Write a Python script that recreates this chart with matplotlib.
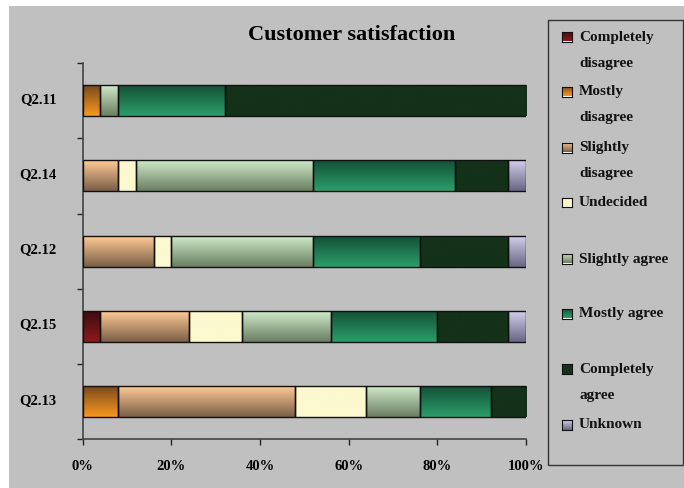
import numpy as np
import matplotlib
matplotlib.use("Agg")
import matplotlib.pyplot as plt
from matplotlib.patches import Rectangle
from matplotlib.colors import to_rgb
from matplotlib.transforms import ScaledTranslation

# ---- data ----
questions = ["Q2.11", "Q2.14", "Q2.12", "Q2.15", "Q2.13"]
series_names = ["Completely\ndisagree", "Mostly\ndisagree", "Slightly\ndisagree", "Undecided",
                "Slightly agree", "Mostly agree", "Completely\nagree", "Unknown"]
completely_disagree = [0, 0, 0, 4, 0]
mostly_disagree     = [4, 0, 0, 0, 8]
slightly_disagree   = [0, 8, 16, 20, 40]
undecided           = [0, 4, 4, 12, 16]
slightly_agree      = [4, 40, 32, 20, 12]
mostly_agree        = [24, 32, 24, 24, 16]
completely_agree    = [68, 12, 20, 16, 8]
unknown             = [0, 4, 4, 4, 0]
xtick_values = [0, 20, 40, 60, 80, 100]
xtick_labels = ["0%", "20%", "40%", "60%", "80%", "100%"]
title = "Customer satisfaction"

series = [completely_disagree, mostly_disagree, slightly_disagree, undecided,
          slightly_agree, mostly_agree, completely_agree, unknown]
# (top colour, bottom colour) of each vertical gradient
grads = [("#3C0C10", "#8E1A1C"), ("#7A4A1C", "#F8981E"), ("#FFCA96", "#7A5F46"),
         ("#FCF9CF", "#FCF9CF"), ("#CFEAC8", "#6A7E62"), ("#145036", "#2B9E6A"),
         ("#143219", "#143219"), ("#D2CEEC", "#686684")]
solid = ["#7A1518", "#E08A20", "#D8AC80", "#FCF9CF", "#A9C8A2", "#228050", "#143219", "#A8A6C8"]

W, H = 684, 488
fig = plt.figure(figsize=(W / 100, H / 100), dpi=100)
fig.patch.set_facecolor("white")
bg = Rectangle((9 / W, 0), 1 - 9 / W, 1 - 6 / H, transform=fig.transFigure,
               facecolor="#C0C0C0", edgecolor="none", zorder=-10)
fig.add_artist(bg)

serif = ["Liberation Serif", "DejaVu Serif"]

ax = fig.add_axes([82.7 / W, 1 - 439.3 / H, (526 - 82.7) / W, (439.3 - 63) / H])
ax.set_facecolor("none")

ypos = np.arange(len(questions))
bar_h = 0.41
left = np.zeros(len(questions))
ngrad = 64


def grad_img(ctop, cbot):
    t = np.array(to_rgb(ctop)); b = np.array(to_rgb(cbot))
    f = np.linspace(0, 1, ngrad)[:, None]
    return (t[None, :] * (1 - f) + b[None, :] * f)[:, None, :]


for vals, (ctop, cbot), sc in zip(series, grads, solid):
    vals = np.array(vals, dtype=float)
    bars = ax.barh(ypos, vals, left=left, height=bar_h, color=sc, edgecolor="none", zorder=2)
    img = grad_img(ctop, cbot)
    for rect, v, l, y in zip(bars, vals, left, ypos):
        if v <= 0:
            continue
        im = ax.imshow(img, extent=(l, l + v, y + bar_h / 2, y - bar_h / 2),
                       origin="upper", aspect="auto", interpolation="bilinear", zorder=3)
        im.set_clip_path(rect)
    ax.barh(ypos, vals, left=left, height=bar_h, fill=False,
            edgecolor=["#111111" if v > 0 else "none" for v in vals], linewidth=1.0, zorder=4)
    left += vals

ax.set_xlim(0, 100)
ax.set_ylim(len(questions) - 0.5, -0.5)

ax.set_xticks(xtick_values)
ax.set_xticklabels(xtick_labels, fontfamily=serif, fontweight="bold", fontsize=10.5)
ax.set_yticks(ypos)
ax.set_yticklabels(questions, fontfamily=serif, fontweight="bold", fontsize=10.5)
ax.set_yticks(np.arange(-0.5, len(questions)), minor=True)
ax.tick_params(axis="y", which="major", length=0, pad=19)
ax.tick_params(axis="y", which="minor", length=4, width=1, direction="out", color="#222222")
ax.tick_params(axis="x", which="major", length=4, width=1, direction="out", pad=11, color="#222222")
shift = ScaledTranslation(0, 3 / 100, fig.dpi_scale_trans)
for lbl in ax.get_yticklabels():
    lbl.set_transform(lbl.get_transform() + shift)
for s in ["top", "right"]:
    ax.spines[s].set_visible(False)
for s in ["left", "bottom"]:
    ax.spines[s].set_color("#444444")
    ax.spines[s].set_linewidth(1.2)

fig.text(352 / W, 1 - 35 / H, title, ha="center", va="center", fontfamily=serif,
         fontweight="bold", fontsize=16)

# ---- legend ----
leg_box = Rectangle((548 / W, 1 - 465 / H), (683 - 548) / W, (465 - 20) / H,
                    transform=fig.transFigure, facecolor="none", edgecolor="#333333",
                    linewidth=1.0, zorder=5)
fig.add_artist(leg_box)
entry_y = [37, 92, 148, 203, 259, 314, 369, 425]
for name, (ctop, cbot), yy in zip(series_names, grads, entry_y):
    x0, y0, s = 562, yy + 4.5, 9.5
    iax = fig.add_axes([x0 / W, 1 - y0 / H, s / W, s / H], zorder=6)
    iax.imshow(grad_img(ctop, cbot), aspect="auto", interpolation="bilinear")
    iax.set_xticks([]); iax.set_yticks([])
    for sp in iax.spines.values():
        sp.set_color("#111111")
        sp.set_linewidth(0.8)
    lines = name.split("\n")
    for k, ln in enumerate(lines):
        fig.text(579 / W, 1 - (yy + 26 * k) / H, ln, ha="left", va="center",
                 fontfamily=serif, fontweight="bold", fontsize=11, color="#111111")

fig.savefig("out.png", dpi=100, facecolor=fig.get_facecolor())
